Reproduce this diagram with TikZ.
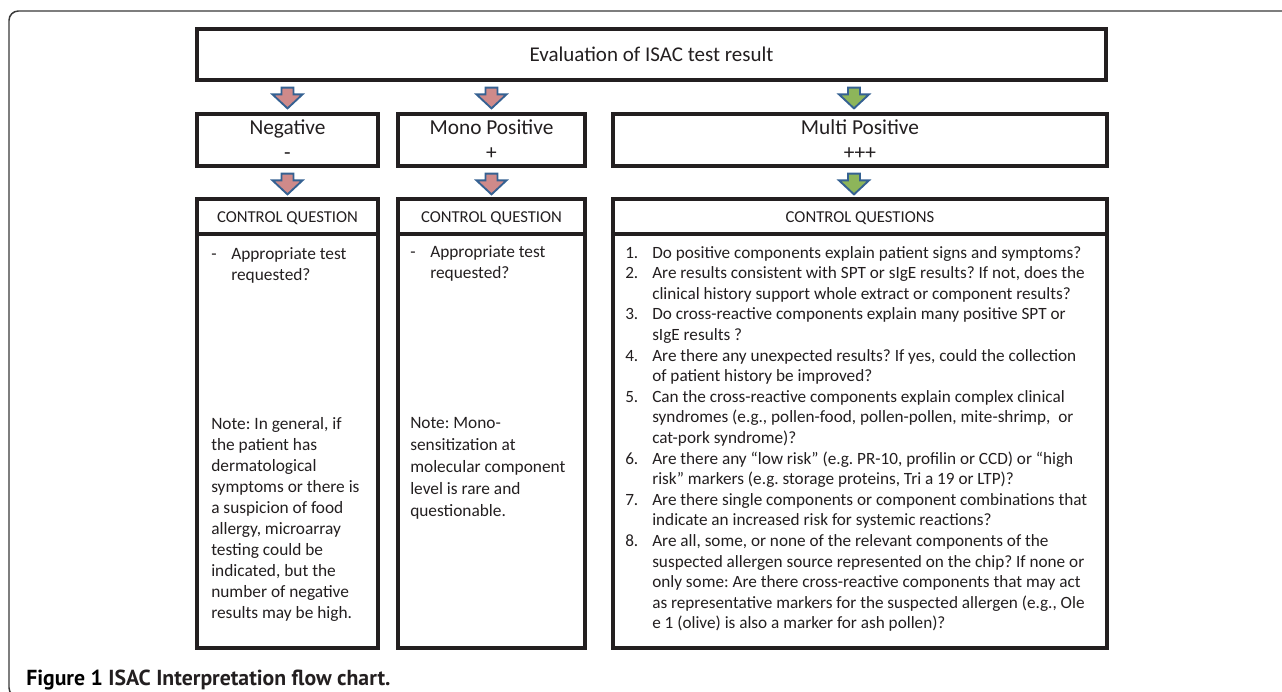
\documentclass[tikz,border=0pt]{standalone}
\usepackage{fontspec}
\setmainfont{Carlito}
\newfontfamily\capfont{PT Sans}
\usetikzlibrary{calc}
\definecolor{boxline}{HTML}{231F20}
\definecolor{framegray}{HTML}{3A3A3A}
\definecolor{arrowline}{HTML}{356192}
\definecolor{negfill}{HTML}{CF8A8A}
\definecolor{posfill}{HTML}{8DB55A}

\tikzset{
  box/.style={draw=boxline, line width=2.4pt, inner sep=0pt, align=center, text=boxline},
  resultbox/.style={box, minimum height=39pt, font=\fontsize{16}{18.75}\selectfont},
  headbox/.style={box, minimum height=26.25pt, text height=10pt, text depth=1.2pt, font=\fontsize{12.5}{15}\selectfont},
  bodybox/.style={box, minimum height=310.5pt},
  bodytext/.style={anchor=north west, inner sep=0pt, text=boxline},
  blockarrow/.style={draw=arrowline, line width=1.4pt, line join=miter,
    to path={($(\tikztostart)+(-6,0)$) -- ($(\tikztostart)+(6,0)$)
      -- ($(\tikztotarget)+(6,-14)$) -- ($(\tikztotarget)+(15,-14)$)
      -- (\tikztotarget) -- ($(\tikztotarget)+(-15,-14)$)
      -- ($(\tikztotarget)+(-6,-14)$) -- cycle}},
  negarrow/.style={blockarrow, fill=negfill},
  posarrow/.style={blockarrow, fill=posfill}
}

\begin{document}
\frenchspacing
\begin{tikzpicture}[x=0.75pt, y=-0.75pt]
\useasboundingbox (0,0) rectangle (1282,692);
\fill[white] (0,0) rectangle (1282,692);
\clip (0,0) rectangle (1282,692);

% frame round the figure
\draw[framegray, line width=1.1pt, rounded corners=7pt] (1300,11) -- (9,11) -- (9,697) -- (40,697);

% first level
\node[box, minimum width=681.75pt, minimum height=38.25pt, font=\fontsize{15.75}{18}\selectfont] (eval) at (651.5,54.5) {Evaluation of ISAC test result};

% result boxes
\node[resultbox, minimum width=135.75pt] (neg) at (287.5,140) {Negative\\-};
\node[resultbox, minimum width=140.25pt] (mono) at (491.5,140) {Mono Positive\\+};
\node[resultbox, minimum width=370.5pt] (multi) at (860,140) {Multi Positive\\+++};

% control question headers
\node[headbox, minimum width=135.75pt] (negq) at (287.5,216.5) {CONTROL QUESTION};
\node[headbox, minimum width=140.25pt] (monoq) at (491.5,216.5) {CONTROL QUESTION};
\node[headbox, minimum width=370.5pt] (multiq) at (860,216.5) {CONTROL QUESTIONS};

% bodies
\node[bodybox, minimum width=135.75pt] (negbody) at (287.5,441) {};
\node[bodybox, minimum width=140.25pt] (monobody) at (491.5,441) {};
\node[bodybox, minimum width=370.5pt] (multibody) at (860,441) {};

% arrows
\draw[negarrow] ($(eval.south -| neg.north)+(0,6)$) to ($(neg.north)+(0,-4)$);
\draw[negarrow] ($(eval.south -| mono.north)+(0,6)$) to ($(mono.north)+(0,-4)$);
\draw[posarrow] ($(eval.south -| multi.north)+(-6,6)$) to ($(multi.north)+(-6,-4)$);
\draw[negarrow] ($(neg.south)+(0,6)$) to ($(negq.north)+(0,-3)$);
\draw[negarrow] ($(mono.south)+(0,6)$) to ($(monoq.north)+(0,-3)$);
\draw[posarrow] ($(multi.south)+(-6,6)$) to ($(multiq.north)+(-6,-3)$);

% Negative
\node[bodytext, font=\fontsize{13}{15.6}\selectfont] (negask) at (211,244.5) {%
\begin{tabular}{@{}p{15pt}@{}l@{}}
- & Appropriate test\\
  & requested?
\end{tabular}};
\node[bodytext, font=\fontsize{13}{15.8}\selectfont] (negnote) at (211,414) {%
\begin{tabular}{@{}l@{}}
Note: In general, if\\
the patient has\\
dermatological\\
symptoms or there is\\
a suspicion of food\\
allergy, microarray\\
testing could be\\
indicated, but the\\
number of negative\\
results may be high.
\end{tabular}};

% Mono Positive
\node[bodytext, font=\fontsize{13}{15.6}\selectfont] (monoask) at (410,243) {%
\begin{tabular}{@{}p{15pt}@{}l@{}}
- & Appropriate test\\
  & requested?
\end{tabular}};
\node[bodytext, font=\fontsize{13}{16.5}\selectfont] (mononote) at (410,412.5) {%
\begin{tabular}{@{}l@{}}
Note: Mono-\\
sensitization at\\
molecular component\\
level is rare and\\
questionable.
\end{tabular}};

% Multi Positive
\node[bodytext, font=\fontsize{12.9}{15.45}\selectfont] (multiask) at (625,243.5) {%
\begin{tabular}{@{}p{20.25pt}@{}l@{}}
1. & Do positive components explain patient signs and symptoms?\\
2. & Are results consistent with SPT or sIgE results? If not, does the\\
   & clinical history support whole extract or component results?\\
3. & Do cross-reactive components explain many positive SPT or\\
   & sIgE results ?\\
4. & Are there any unexpected results? If yes, could the collection\\
   & of patient history be improved?\\
5. & Can the cross-reactive components explain complex clinical\\
   & syndromes (e.g., pollen-food, pollen-pollen, mite-shrimp,\ \ or\\
   & cat-pork syndrome)?\\
6. & Are there any “low risk” (e.g. PR-10, profilin or CCD) or “high\\
   & risk” markers (e.g. storage proteins, Tri a 19 or LTP)?\\
7. & Are there single components or component combinations that\\
   & indicate an increased risk for systemic reactions?\\
8. & Are all, some, or none of the relevant components of the\\
   & suspected allergen source represented on the chip? If none or\\
   & only some: Are there cross-reactive components that may act\\
   & as representative markers for the suspected allergen (e.g., Ole\\
   & e 1 (olive) is also a marker for ash pollen)?
\end{tabular}};

% caption
\node[anchor=base west, inner sep=0pt, font=\capfont\bfseries\fontsize{16.3}{19}\selectfont] (caption) at (26,685)
  {Figure 1 \textcolor{boxline}{ISAC Interpretation flow chart.}};
\end{tikzpicture}
\end{document}
